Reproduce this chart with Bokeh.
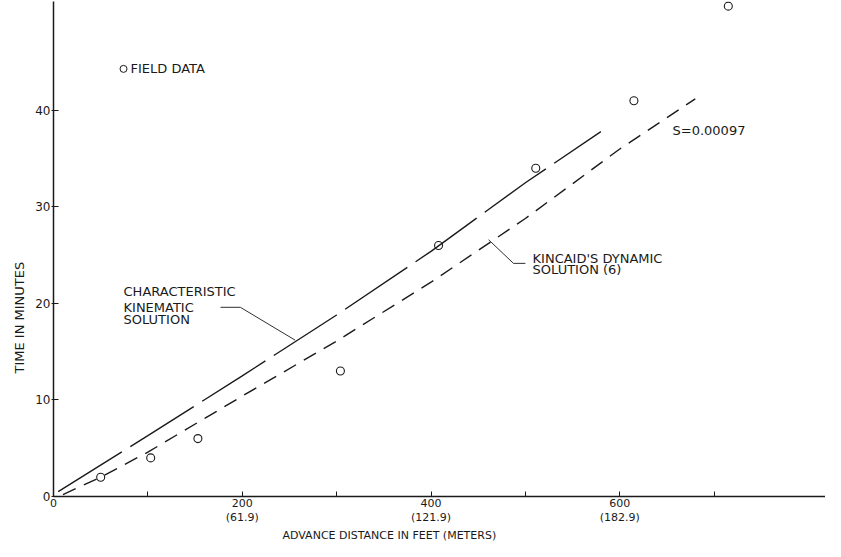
from bokeh.plotting import figure
from bokeh.models import FixedTicker, Range1d, Title
from bokeh.embed import file_html
from bokeh.resources import INLINE
from bokeh.core.properties import value

# ---- data ----
field_ft = [50, 103, 153, 304, 408, 511, 615, 715]
field_min = [2.0, 4.0, 6.0, 13.0, 26.0, 34.0, 41.0, 50.8]

kin_ft = [5, 100, 200, 300, 400, 500, 580]
kin_min = [0.5, 6.3, 12.5, 18.8, 25.4, 32.5, 37.8]

dyn_ft = [10, 50, 100, 200, 300, 400, 500, 600, 680]
dyn_min = [0.2, 2.0, 4.6, 10.4, 16.1, 22.2, 28.8, 36.0, 41.2]

x_ticks = [0, 100, 200, 300, 400, 500, 600, 700]
x_tick_labels = ["0", "", "200\n(61.9)", "", "400\n(121.9)", "", "600\n(182.9)", ""]
y_ticks = [0, 10, 20, 30, 40]
y_tick_labels = ["0", "10", "20", "30", "40"]

FONT = "DejaVu Sans"
INK = "#1a1a1a"

p = figure(width=825, height=541,
           x_range=Range1d(0, 818), y_range=Range1d(0, 51.28),
           output_backend="svg", toolbar_location=None,
           min_border_left=53, min_border_right=0,
           min_border_top=1, min_border_bottom=40)
p.outline_line_color = None
p.xgrid.visible = False
p.ygrid.visible = False
p.background_fill_color = "white"
p.border_fill_color = "white"

# axes
xa = p.xaxis[0]
xa.ticker = FixedTicker(ticks=x_ticks)
xa.major_label_overrides = {t: l for t, l in zip(x_ticks, x_tick_labels)}
xa.minor_tick_line_color = None
xa.major_tick_in = 5
xa.major_tick_out = 0
xa.major_label_standoff = 0
xa.axis_line_color = INK
xa.axis_line_width = 1.5
xa.major_tick_line_color = INK
xa.major_label_text_font = FONT
xa.major_label_text_font_size = "11px"
xa.major_label_text_line_height = 1.1
xa.major_label_text_color = INK

ya = p.yaxis[0]
ya.ticker = FixedTicker(ticks=y_ticks)
ya.major_label_overrides = {t: l for t, l in zip(y_ticks, y_tick_labels)}
ya.minor_tick_line_color = None
ya.major_tick_in = 5
ya.major_tick_out = 2
ya.major_label_standoff = 1
ya.axis_line_color = INK
ya.axis_line_width = 1.5
ya.major_tick_line_color = INK
ya.major_label_text_font = FONT
ya.major_label_text_font_size = "12px"
ya.major_label_text_color = INK

# axis titles as Title objects (offset along the frame edge)
xt = Title(text="ADVANCE DISTANCE IN FEET (METERS)", align="left", offset=229,
           standoff=0, text_font=FONT, text_font_size="11px",
           text_line_height=1.0,
           text_font_style="normal", text_color=INK)
p.add_layout(xt, "below")
yt = Title(text="TIME IN MINUTES", align="left", offset=123,
           standoff=12, text_font=FONT, text_font_size="13px",
           text_font_style="normal", text_color=INK)
p.add_layout(yt, "left")

# curves
p.line(kin_ft, kin_min, line_color=INK, line_width=1.4, line_dash="75 10")
p.line(dyn_ft, dyn_min, line_color=INK, line_width=1.4, line_dash="14 9")

# field data
p.scatter(field_ft, field_min, marker="circle", size=8, fill_color=None,
          line_color=INK, line_width=1.1)

# legend-like marker
p.scatter([74.2], [44.3], marker="circle", size=7, fill_color=None,
          line_color=INK, line_width=1.0)

# leader lines
p.line([177, 198, 256], [19.6, 19.6, 16.2], line_color=INK, line_width=0.9)
p.line([461, 487.4, 500], [26.6, 24.15, 24.15], line_color=INK, line_width=0.9)

# annotations
ann_x = [81.6, 74.2, 74.2, 74.2, 507.6, 507.6, 655.9]
ann_y = [44.3, 21.27, 19.63, 18.29, 24.67, 23.54, 37.92]
ann_t = ["FIELD DATA", "CHARACTERISTIC", "KINEMATIC", "SOLUTION",
         "KINCAID'S DYNAMIC", "SOLUTION (6)", "S=0.00097"]
p.text(x=ann_x, y=ann_y, text=ann_t, text_font=value(FONT),
       text_font_size="13px", text_baseline="middle", text_align="left",
       text_color=INK)

open("out.html", "w").write(file_html(p, INLINE))
